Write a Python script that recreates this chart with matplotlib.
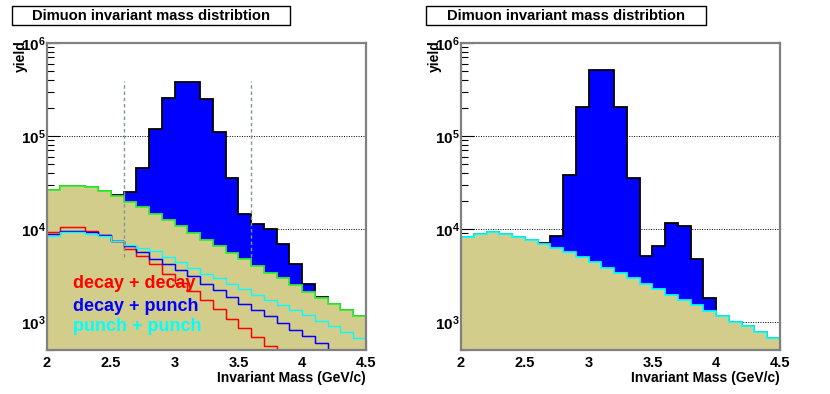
import numpy as np
import matplotlib
matplotlib.use("Agg")
import matplotlib.pyplot as plt
from matplotlib.patches import Rectangle
from matplotlib.ticker import FixedLocator, FixedFormatter, LogLocator, NullFormatter

plt.rcParams['font.family'] = ['Liberation Sans', 'DejaVu Sans']
plt.rcParams['font.weight'] = 'bold'
plt.rcParams['mathtext.fontset'] = 'custom'
plt.rcParams['mathtext.bf'] = 'Liberation Sans:bold'
plt.rcParams['mathtext.rm'] = 'Liberation Sans:bold'

# ---------------- data ----------------
mass_edges = [2.0, 2.1, 2.2, 2.3, 2.4, 2.5, 2.6, 2.7, 2.8, 2.9, 3.0, 3.1, 3.2,
              3.3, 3.4, 3.5, 3.6, 3.7, 3.8, 3.9, 4.0, 4.1, 4.2, 4.3, 4.4, 4.5]

total_left = [26300, 29300, 29300, 28100, 25500, 23300, 24800, 45500, 118000,
              257000, 381000, 381000, 251000, 110000, 35600, 14500, 11300,
              10070, 6920, 4160, 2580, 1880, 1550, 1340, 1150]
background_left = [26300, 29300, 29300, 28100, 25500, 22700, 19700, 17200,
                   14600, 12600, 10700, 9060, 7690, 6520, 5540, 4700, 3980,
                   3390, 2950, 2500, 2120, 1830, 1550, 1340, 1150]
decay_decay = [9290, 10500, 10500, 9600, 8550, 7500, 6110, 5090, 4160, 3300,
               2650, 2150, 1710, 1370, 1090, 870, 685, 555, 450, 380, 320, 270,
               230, 190, 160]
decay_punch = [8860, 9600, 9600, 9290, 8550, 7500, 6520, 5680, 4780, 4250,
               3620, 3120, 2580, 2190, 1860, 1580, 1340, 1160, 966, 820, 700,
               595, 480, 420, 360]
punch_punch = [8470, 9290, 9290, 8920, 8470, 7500, 6790, 6260, 5770, 4950,
               4400, 3830, 3300, 2950, 2580, 2240, 1950, 1710, 1530, 1340, 1190,
               1020, 900, 775, 670]

total_right = [8220, 8910, 9200, 8860, 8280, 7690, 7080, 8340, 38300, 207000,
               512000, 512000, 207000, 35100, 5090, 6520, 11600, 10700, 4700,
               1800, 1160, 1010, 900, 775, 670]
background_right = [8220, 8910, 9200, 8860, 8280, 7690, 6970, 6270, 5630, 4980,
                    4400, 3830, 3390, 2950, 2580, 2240, 1970, 1730, 1510, 1320,
                    1160, 1010, 900, 775, 670]

window_lo, window_hi = 2.6, 3.6
window_ymin, window_ymax = 5000, 3.9e5

legend_labels = ["decay + decay", "decay + punch", "punch + punch"]
legend_colors = ["#ff0000", "#0000ff", "#00ffff"]

title_text = "Dimuon invariant mass distribtion"
xlabel_text = "Invariant Mass (GeV/c)"
ylabel_text = "yield"
x_ticks = [2, 2.5, 3, 3.5, 4, 4.5]
x_ticklabels = ["2", "2.5", "3", "3.5", "4", "4.5"]
y_ticks = [1e3, 1e4, 1e5, 1e6]
y_ticklabels = [r"$\mathbf{10^{3}}$", r"$\mathbf{10^{4}}$",
                r"$\mathbf{10^{5}}$", r"$\mathbf{10^{6}}$"]

YMIN, YMAX = 500, 1e6
TAN = "#d3cd8c"
SPINE = "#808080"

W, H = 830, 394
fig = plt.figure(figsize=(W / 100, H / 100), dpi=100)


def px_axes(x0, x1, y0, y1):
    return fig.add_axes([x0 / W, 1 - y1 / H, (x1 - x0) / W, (y1 - y0) / H])


def style_axes(ax):
    ax.set_yscale('log')
    ax.set_xlim(mass_edges[0], mass_edges[-1])
    ax.set_ylim(YMIN, YMAX)
    ax.set_axisbelow(True)
    ax.yaxis.set_major_locator(FixedLocator(y_ticks))
    ax.yaxis.set_major_formatter(FixedFormatter(y_ticklabels))
    ax.yaxis.set_minor_locator(LogLocator(base=10, subs=np.arange(2, 10)))
    ax.yaxis.set_minor_formatter(NullFormatter())
    ax.xaxis.set_major_locator(FixedLocator(x_ticks))
    ax.xaxis.set_major_formatter(FixedFormatter(x_ticklabels))
    ax.tick_params(axis='y', which='major', direction='in', length=9,
                   width=0.8, pad=1, labelsize=11, colors='black')
    ax.tick_params(axis='y', which='minor', direction='in', length=5,
                   width=0.8)
    ax.tick_params(axis='x', which='major', direction='in', length=8,
                   width=0.8, pad=4, labelsize=10.5)
    ax.grid(True, axis='y', which='major', linestyle=(0, (1, 1.5)),
            color='black', linewidth=0.7)
    for s in ax.spines.values():
        s.set_color(SPINE)
        s.set_linewidth(1.6)
    ax.set_xlabel(xlabel_text, fontsize=10, fontweight='bold', loc='right')
    ax.xaxis.set_label_coords(1.0, -0.068)
    ax.set_ylabel(ylabel_text, fontsize=10, fontweight='bold', loc='top')
    ax.yaxis.set_label_coords(-0.06, 1.01)


def title_box(xc, x0, x1):
    fig.patches.append(Rectangle((x0 / W, 1 - 25 / H), (x1 - x0) / W, 19 / H,
                                 transform=fig.transFigure, facecolor='white',
                                 edgecolor='black', linewidth=1.0))
    fig.text(xc / W, 1 - 16 / H, title_text, ha='center', va='center',
             fontsize=10.6, fontweight='bold')


# ---------------- left panel ----------------
axL = px_axes(47, 366, 43, 350)
style_axes(axL)
axL.stairs(total_left, mass_edges, fill=True, color='#0000ff', baseline=1,
           zorder=1)
axL.stairs(total_left, mass_edges, baseline=None, color='black', lw=1.3,
           zorder=1.1)
axL.stairs(background_left, mass_edges, fill=True, color=TAN, baseline=1,
           zorder=1.2)
axL.stairs(background_left, mass_edges, baseline=None, color='#33ee33',
           lw=1.3, zorder=1.3)
for vals, col in zip([decay_decay, decay_punch, punch_punch], legend_colors):
    axL.stairs(np.clip(vals, YMIN * 1.01, None), mass_edges, baseline=None,
               color=col, lw=1.0, zorder=1.5)
# faint dark companions giving the doubled look of the red/blue lines
axL.stairs(np.clip(decay_decay, YMIN * 1.01, None), mass_edges, baseline=None,
           color='#c86040', lw=1.0, alpha=0.55, zorder=1.45)
axL.stairs(np.clip(decay_punch, YMIN * 1.01, None), mass_edges, baseline=None,
           color='#5050a0', lw=1.0, alpha=0.55, zorder=1.45)
axL.vlines([window_lo, window_hi], window_ymin, window_ymax,
           colors='#7d9a96', linestyles=(0, (2.5, 2)), linewidth=1.0,
           zorder=2)
for i, (lab, col) in enumerate(zip(legend_labels, legend_colors)):
    axL.text(0.0815, [0.217, 0.143, 0.078][i], lab, color=col,
             transform=axL.transAxes, fontsize=13, fontweight='bold',
             ha='left', va='center', zorder=3)
title_box(151, 12, 290)

# ---------------- right panel ----------------
axR = px_axes(461, 780, 43, 350)
style_axes(axR)
axR.stairs(total_right, mass_edges, fill=True, color='#0000ff', baseline=1,
           zorder=1)
axR.stairs(total_right, mass_edges, baseline=None, color='black', lw=1.3,
           zorder=1.1)
axR.stairs(background_right, mass_edges, fill=True, color=TAN, baseline=1,
           zorder=1.2)
axR.stairs(background_right, mass_edges, baseline=None, color='#00ffff',
           lw=1.3, zorder=1.3)
title_box(566, 426, 706)

fig.savefig("out.png", dpi=100)
